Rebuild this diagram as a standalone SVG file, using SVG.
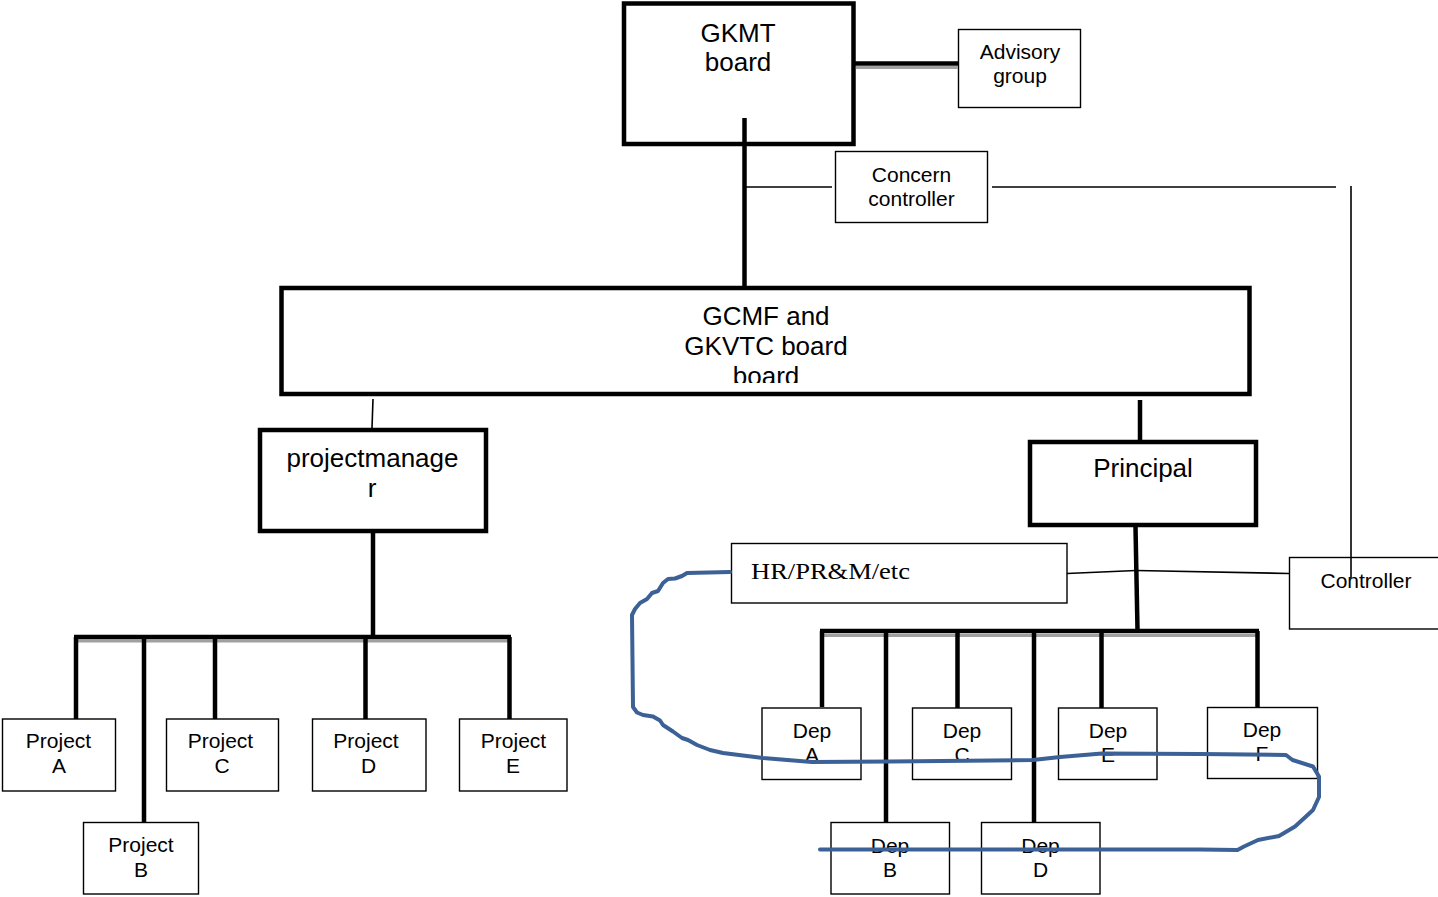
<svg xmlns="http://www.w3.org/2000/svg" width="1438" height="897" viewBox="0 0 1438 897">
<style>
.t{font-family:"Liberation Sans",Arial,sans-serif;fill:#000;text-anchor:middle}
.big{font-size:26px}
.sm{font-size:21px}
.thick{fill:#fff;stroke:#000;stroke-width:4.5}
.thin{fill:#fff;stroke:#000;stroke-width:1.4}
.bar{stroke:#000;stroke-width:4.5;fill:none}
.line{stroke:#000;stroke-width:1.6;fill:none}
.shadow{stroke:#a0a0a0;stroke-width:3;fill:none}
.blue{stroke:#3b6196;stroke-width:4;fill:none;stroke-linejoin:round;stroke-linecap:round}
</style>
<defs>
<clipPath id="gcmfClip"><rect x="284" y="290" width="963" height="93"/></clipPath>
</defs>
<rect width="1438" height="897" fill="#fff"/>

<g id="n-gkmt">
<rect class="thick" x="624" y="3.5" width="229.5" height="140.5"/>
<text class="t big" x="738" y="42">GKMT</text>
<text class="t big" x="738" y="71">board</text>
</g>
<g id="n-advisory">
<rect class="thin" x="958.5" y="29.5" width="122" height="78"/>
<text class="t sm" x="1020" y="59">Advisory</text>
<text class="t sm" x="1020" y="83">group</text>
</g>
<g id="n-concern">
<rect class="thin" x="835.5" y="151.5" width="152" height="71"/>
<text class="t sm" x="911.5" y="181.5">Concern</text>
<text class="t sm" x="911.5" y="206">controller</text>
</g>
<g id="n-gcmf">
<rect class="thick" x="281.5" y="288" width="968" height="106"/>
<g clip-path="url(#gcmfClip)">
<text class="t big" x="766" y="325">GCMF and</text>
<text class="t big" x="766" y="355">GKVTC board</text>
<text class="t big" x="766" y="385">board</text>
</g>
</g>
<g id="n-pm">
<rect class="thick" x="260" y="430" width="226" height="101"/>
<text class="t big" x="372.5" y="467">projectmanage</text>
<text class="t big" x="372" y="497">r</text>
</g>
<g id="n-principal">
<rect class="thick" x="1030" y="442" width="226" height="83"/>
<text class="t big" x="1143" y="477">Principal</text>
</g>
<g id="n-hr">
<rect class="thin" x="731.5" y="543.5" width="335.5" height="59.5"/>
<text x="751" y="579" font-family="'Liberation Serif','Times New Roman',serif" font-size="24" textLength="159" lengthAdjust="spacingAndGlyphs">HR/PR&amp;M/etc</text>
</g>
<g id="n-controller">
<rect class="thin" x="1289.5" y="557.5" width="160" height="71.5"/>
<text class="t sm" x="1366" y="588">Controller</text>
</g>

<g id="n-projA"><rect class="thin" x="2.5" y="719" width="113" height="72"/><text class="t sm" x="58.5" y="748">Project</text><text class="t sm" x="59" y="773">A</text></g>
<g id="n-projB"><rect class="thin" x="83.5" y="822.5" width="115" height="71.5"/><text class="t sm" x="141" y="852">Project</text><text class="t sm" x="141" y="877">B</text></g>
<g id="n-projC"><rect class="thin" x="166.5" y="719" width="112" height="72"/><text class="t sm" x="220.5" y="748">Project</text><text class="t sm" x="222" y="773">C</text></g>
<g id="n-projD"><rect class="thin" x="312.5" y="719" width="113.5" height="72"/><text class="t sm" x="366" y="748">Project</text><text class="t sm" x="368.5" y="773">D</text></g>
<g id="n-projE"><rect class="thin" x="459.5" y="719" width="107.5" height="72"/><text class="t sm" x="513.5" y="748">Project</text><text class="t sm" x="513" y="773">E</text></g>

<g id="n-depA"><rect class="thin" x="762" y="708" width="99" height="71.5"/><text class="t sm" x="812" y="737.5">Dep</text><text class="t sm" x="812" y="762">A</text></g>
<g id="n-depC"><rect class="thin" x="912.5" y="708" width="99" height="71.5"/><text class="t sm" x="962" y="737.5">Dep</text><text class="t sm" x="962" y="762">C</text></g>
<g id="n-depE"><rect class="thin" x="1058.5" y="708" width="98.5" height="71.5"/><text class="t sm" x="1108" y="737.5">Dep</text><text class="t sm" x="1108" y="762">E</text></g>
<g id="n-depF"><rect class="thin" x="1207.5" y="707.5" width="110" height="71"/><text class="t sm" x="1262" y="736.5">Dep</text><text class="t sm" x="1262" y="761">F</text></g>
<g id="n-depB"><rect class="thin" x="831" y="822.5" width="118.5" height="71.5"/><text class="t sm" x="890" y="853">Dep</text><text class="t sm" x="890" y="877">B</text></g>
<g id="n-depD"><rect class="thin" x="981.5" y="822.5" width="118.5" height="71.5"/><text class="t sm" x="1040.5" y="853">Dep</text><text class="t sm" x="1040.5" y="877">D</text></g>

<g id="connectors">
<line class="shadow" x1="856" y1="67.5" x2="958" y2="67.5"/>
<line class="bar" x1="855" y1="63.5" x2="958" y2="63.5"/>
<line class="bar" x1="744.5" y1="118" x2="744.5" y2="287"/>
<line class="line" x1="746" y1="187" x2="832" y2="187"/>
<line class="line" x1="992" y1="187" x2="1336" y2="187"/>
<line class="line" x1="1351" y1="186" x2="1351" y2="578"/>
<line class="line" x1="373" y1="399" x2="372" y2="428"/>
<line class="bar" x1="1140" y1="400" x2="1140" y2="440"/>
<line class="bar" x1="373" y1="532" x2="373" y2="636"/>
<line class="shadow" x1="78" y1="641" x2="511" y2="641"/>
<line class="bar" x1="74" y1="637" x2="511" y2="637"/>
<line class="bar" x1="76" y1="637" x2="76" y2="719"/>
<line class="bar" x1="144" y1="637" x2="144" y2="822"/>
<line class="bar" x1="215" y1="637" x2="215" y2="719"/>
<line class="bar" x1="365.5" y1="637" x2="365.5" y2="719"/>
<line class="bar" x1="509.5" y1="637" x2="509.5" y2="719"/>
<line class="bar" x1="1135.5" y1="527" x2="1137.5" y2="630"/>
<line class="line" x1="1067" y1="573.5" x2="1136" y2="570.5"/>
<line class="line" x1="1136" y1="570.5" x2="1289" y2="573.5"/>
<line class="shadow" x1="822" y1="635.5" x2="1258" y2="635.5"/>
<line class="bar" x1="820" y1="631" x2="1259" y2="631"/>
<line class="bar" x1="822" y1="631" x2="822" y2="707"/>
<line class="bar" x1="886" y1="631" x2="886" y2="822"/>
<line class="bar" x1="957.5" y1="631" x2="957.5" y2="708"/>
<line class="bar" x1="1034" y1="631" x2="1034" y2="822"/>
<line class="bar" x1="1101.5" y1="631" x2="1101.5" y2="708"/>
<line class="bar" x1="1257.5" y1="631" x2="1257.5" y2="707"/>
</g>

<path id="annotation" class="blue" d="M730,572 L687,573 L682,576 L675,578.5 L668,579 L663,583 L658,591 L652,593 L647,599 L640,603 L635,609 L632,615 L633,707 L637,712.5 L643,715 L653,716.5 L660,720.5 L663,725 L673,731.5 L682,738 L688,740 L697,745 L710,750 L723,753 L763,758 L812,762 L890,761.5 L1033,760 L1060,757 L1102,753.5 L1200,754 L1286,755 L1292.5,760 L1313,766.5 L1319,776.5 L1319,797 L1313,810 L1306,816.5 L1295,826.5 L1279,836 L1258,840 L1244,846.5 L1237.5,850 L1200,849.5 L820,849.5"/>
</svg>
